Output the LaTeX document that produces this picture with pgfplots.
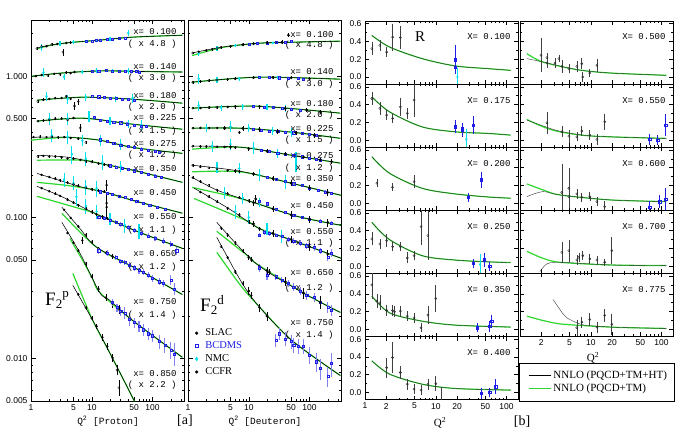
\documentclass[border=0pt]{standalone}
\usepackage{fontspec}
\setmainfont{Liberation Serif}
\setsansfont{Liberation Sans}
\setmonofont{Liberation Mono}
\usepackage{pgfplots}
\pgfplotsset{compat=1.18}
\definecolor{lg}{RGB}{45,215,45}
\definecolor{nmcc}{RGB}{0,225,235}
\definecolor{bcd}{RGB}{30,30,230}
\definecolor{bcdl}{RGB}{130,130,245}
\newcommand{\lab}{\ttfamily\fontsize{9}{9}\selectfont}
\pgfplotsset{
 cvBlack/.style={black, line width=0.55pt, smooth, mark=none},
 cvBlackR/.style={black!80, line width=0.4pt, smooth, mark=none},
 cvGreen/.style={lg, line width=1.2pt, smooth, mark=none},
 ptSlac/.style={only marks, black, mark=o, mark size=1.1pt, mark options={line width=0.35pt}, error bars/y dir=both, error bars/y explicit, error bars/error mark=none, error bars/error bar style={line width=0.45pt}},
 ptBcd/.style={only marks, bcd, mark=square, mark size=1.05pt, mark options={line width=0.4pt}, error bars/y dir=both, error bars/y explicit, error bars/error mark=none, error bars/error bar style={line width=1.1pt, bcdl}},
 ptNmc/.style={only marks, nmcc, mark=diamond*, mark size=1.3pt, error bars/y dir=both, error bars/y explicit, error bars/error mark=none, error bars/error bar style={line width=1.1pt, nmcc}},
 ptCcfr/.style={only marks, black, mark=*, mark size=1.15pt, error bars/y dir=both, error bars/y explicit, error bars/error mark=none, error bars/error bar style={line width=0.6pt}},
 ptRd/.style={only marks, black!85, mark=o, mark size=1.1pt, mark options={line width=0.4pt}, error bars/y dir=both, error bars/y explicit, error bars/error bar style={line width=0.6pt, black!75}, error bars/error mark options={mark size=2pt, line width=0.6pt, black!75}},
 ptRb/.style={only marks, bcd, mark=square, mark size=1.2pt, mark options={line width=0.5pt}, error bars/y dir=both, error bars/y explicit, error bars/error bar style={line width=0.8pt, bcd}, error bars/error mark options={mark size=2pt, line width=0.8pt, bcd}},
 ptRc/.style={only marks, nmcc, mark=diamond*, mark size=1.2pt, error bars/y dir=both, error bars/y explicit, error bars/error bar style={line width=0.9pt, nmcc}, error bars/error mark options={mark size=2pt, line width=0.8pt, nmcc}},
}
\begin{document}
\begin{tikzpicture}
\useasboundingbox (0,0) rectangle (692pt,444pt);

%================ F2 proton ================
\begin{axis}[at={(31pt,43pt)}, anchor=south west, scale only axis, width=153pt, height=381pt,
 xmode=log, ymode=log, xmin=1, xmax=330, ymin=0.005, ymax=2.5,
 xtick={1,5,10,50,100}, xticklabels={1,5,10,50,100},
 minor xtick={2,3,4,6,7,8,9,20,30,40,60,70,80,90,200,300},
 ytick={0.005,0.01,0.05,0.1,0.5,1}, yticklabels={0.005,0.010,0.050,0.100,0.500,1.000},
 minor ytick={0.006,0.007,0.008,0.009,0.02,0.03,0.04,0.06,0.07,0.08,0.09,0.2,0.3,0.4,0.6,0.7,0.8,0.9,2},
 tick style={black,line width=0.5pt}, axis line style={line width=0.7pt},
 tick label style={font=\sffamily\fontsize{8.5}{9}\selectfont},
 major tick length=4.5pt, minor tick length=2.2pt]
% 0.100
\addplot[cvGreen] coordinates {(1.25,1.56)(2.05,1.65)(4.36,1.73)(13.5,1.80)(47,1.89)(310,1.95)};
\addplot[cvBlack] coordinates {(1.25,1.58)(2.05,1.66)(4.36,1.73)(13.5,1.80)(47,1.89)(310,1.95)};
\addplot[ptNmc] coordinates {(1.5,1.60)+-(0,0.08) (3,1.70)+-(0,0.07) (5,1.74)+-(0,0.06) (8,1.76)+-(0,0.05) (12,1.79)+-(0,0.05) (20,1.83)+-(0,0.05) (40,2.02)+-(0,0.1)};
\addplot[ptSlac] coordinates {(1.25,1.57)+-(0,0.03) (1.5,1.62)+-(0,0.03) (1.8,1.63)+-(0,0.03) (2.2,1.68)+-(0,0.04) (2.7,1.69)+-(0,0.03) (3.35,1.48)+-(0,0.08) (3.8,1.72)+-(0,0.04) (4.5,1.73)+-(0,0.04)};
\addplot[ptBcd] coordinates {(8,1.77)+-(0,0.03) (10,1.78)+-(0,0.03) (12,1.79)+-(0,0.03) (14,1.81)+-(0,0.03) (18,1.82)+-(0,0.03) (22,1.84)+-(0,0.03) (28,1.86)+-(0,0.03) (35,1.87)+-(0,0.03)};
% 0.140
\addplot[cvGreen] coordinates {(1.05,1.00)(2.99,1.05)(13.5,1.09)(61.2,1.08)(310,1.07)};
\addplot[cvBlack] coordinates {(1.05,1.00)(2.99,1.05)(13.5,1.09)(61.2,1.08)(310,1.07)};
\addplot[ptNmc] coordinates {(1.6,1.06)+-(0,0.08) (3.5,0.99)+-(0,0.05) (7,1.07)+-(0,0.04) (12,1.10)+-(0,0.04) (22,1.09)+-(0,0.04) (40,1.09)+-(0,0.05)};
\addplot[ptSlac] coordinates {(1.2,1.00)+-(0,0.02) (1.5,1.02)+-(0,0.02) (1.9,1.01)+-(0,0.02) (2.4,1.04)+-(0,0.02) (3,1.03)+-(0,0.02) (3.8,1.06)+-(0,0.02) (4.5,1.05)+-(0,0.02) (5.2,1.07)+-(0,0.02)};
\addplot[ptBcd] coordinates {(10,1.085)+-(0,0.02) (13,1.09)+-(0,0.02) (17,1.10)+-(0,0.02) (22,1.09)+-(0,0.02) (28,1.09)+-(0,0.02) (36,1.09)+-(0,0.02) (45,1.085)+-(0,0.02) (55,1.08)+-(0,0.02) (60,1.06)+-(0,0.02)};
% 0.180
\addplot[cvGreen] coordinates {(1.25,0.676)(7.12,0.71)(47,0.687)(310,0.644)};
\addplot[cvBlack] coordinates {(1.25,0.676)(7.12,0.71)(47,0.687)(310,0.644)};
\addplot[ptNmc] coordinates {(1.8,0.72)+-(0,0.05) (4,0.69)+-(0,0.05) (8,0.71)+-(0,0.04) (25,0.69)+-(0,0.03) (47,0.70)+-(0,0.05)};
\addplot[ptSlac] coordinates {(1.3,0.66)+-(0,0.015) (1.6,0.68)+-(0,0.015) (2,0.69)+-(0,0.015) (2.5,0.70)+-(0,0.015) (3.2,0.70)+-(0,0.015) (3.8,0.72)+-(0,0.015) (4.5,0.69)+-(0,0.015) (5.2,0.615)+-(0,0.04) (6,0.66)+-(0,0.03)};
\addplot[ptBcd] coordinates {(10,0.72)+-(0,0.012) (13,0.715)+-(0,0.012) (16,0.71)+-(0,0.012) (20,0.70)+-(0,0.012) (25,0.695)+-(0,0.012) (32,0.69)+-(0,0.012) (40,0.685)+-(0,0.012) (50,0.68)+-(0,0.012)};
% 0.225
\addplot[cvGreen] coordinates {(1.25,0.480)(7.12,0.504)(47,0.457)(310,0.421)};
\addplot[cvBlack] coordinates {(1.25,0.480)(7.12,0.504)(47,0.457)(310,0.421)};
\addplot[ptNmc] coordinates {(2,0.50)+-(0,0.05) (4,0.50)+-(0,0.05) (9,0.52)+-(0,0.05) (20,0.48)+-(0,0.03) (40,0.46)+-(0,0.03) (65,0.45)+-(0,0.04)};
\addplot[ptSlac] coordinates {(1.3,0.48)+-(0,0.01) (1.6,0.485)+-(0,0.01) (2,0.49)+-(0,0.01) (2.5,0.50)+-(0,0.01) (3.2,0.50)+-(0,0.01) (4,0.49)+-(0,0.01) (5,0.505)+-(0,0.01) (6.5,0.43)+-(0,0.03)};
\addplot[ptBcd] coordinates {(11,0.51)+-(0,0.01) (14,0.49)+-(0,0.01) (18,0.48)+-(0,0.01) (23,0.475)+-(0,0.01) (30,0.468)+-(0,0.01) (38,0.46)+-(0,0.01) (50,0.45)+-(0,0.01) (65,0.445)+-(0,0.01) (80,0.44)+-(0,0.01)};
% 0.275
\addplot[cvGreen] coordinates {(1.0,0.352)(3.89,0.369)(13.5,0.352)(47,0.313)(310,0.284)};
\addplot[cvBlack] coordinates {(1.0,0.369)(3.89,0.369)(13.5,0.352)(47,0.313)(310,0.284)};
\addplot[ptNmc] coordinates {(2.2,0.38)+-(0,0.04) (4,0.37)+-(0,0.04) (7,0.35)+-(0,0.03) (14,0.35)+-(0,0.03) (30,0.33)+-(0,0.03)};
\addplot[ptSlac] coordinates {(1.1,0.37)+-(0,0.008) (1.4,0.372)+-(0,0.008) (1.8,0.37)+-(0,0.008) (2.2,0.372)+-(0,0.008) (2.8,0.369)+-(0,0.008) (3.5,0.37)+-(0,0.008) (4.5,0.365)+-(0,0.008) (6,0.36)+-(0,0.008) (8,0.34)+-(0,0.01)};
\addplot[ptBcd] coordinates {(14,0.355)+-(0,0.007) (18,0.345)+-(0,0.007) (23,0.335)+-(0,0.007) (30,0.325)+-(0,0.007) (40,0.318)+-(0,0.007) (50,0.312)+-(0,0.007) (65,0.306)+-(0,0.007) (85,0.30)+-(0,0.007) (110,0.294)+-(0,0.007) (130,0.29)+-(0,0.007)};
% 0.350
\addplot[cvGreen] coordinates {(1.25,0.254)(7.12,0.254)(13.5,0.241)(47,0.216)(310,0.177)};
\addplot[cvBlack] coordinates {(1.25,0.275)(3.89,0.267)(13.5,0.241)(47,0.216)(310,0.177)};
\addplot[ptNmc] coordinates {(4.7,0.28)+-(0,0.04) (8,0.26)+-(0,0.03) (15,0.245)+-(0,0.03) (30,0.23)+-(0,0.02)};
\addplot[ptSlac] coordinates {(1.3,0.27)+-(0,0.006) (1.6,0.272)+-(0,0.006) (2,0.27)+-(0,0.006) (2.5,0.27)+-(0,0.006) (3.2,0.266)+-(0,0.006) (4,0.262)+-(0,0.006) (5,0.26)+-(0,0.006) (6.5,0.255)+-(0,0.006) (8,0.25)+-(0,0.006) (10,0.247)+-(0,0.006) (13,0.24)+-(0,0.006) (16,0.236)+-(0,0.006) (19,0.232)+-(0,0.006)};
\addplot[ptBcd] coordinates {(20,0.232)+-(0,0.005) (25,0.228)+-(0,0.005) (32,0.223)+-(0,0.005) (40,0.219)+-(0,0.005) (50,0.214)+-(0,0.005) (65,0.208)+-(0,0.005) (85,0.202)+-(0,0.005) (110,0.197)+-(0,0.005) (140,0.192)+-(0,0.005)};
% 0.450
\addplot[cvGreen] coordinates {(1.25,0.177)(4,0.168)(13.5,0.154)(47,0.132)(310,0.107)};
\addplot[cvBlack] coordinates {(1.25,0.205)(7.12,0.163)(17.6,0.150)(47,0.132)(310,0.107)};
\addplot[ptNmc] coordinates {(3.5,0.185)+-(0,0.02) (5,0.175)+-(0,0.02) (8,0.165)+-(0,0.02) (12,0.16)+-(0,0.02)};
\addplot[ptSlac] coordinates {(1.5,0.20)+-(0,0.004) (2,0.193)+-(0,0.004) (2.5,0.188)+-(0,0.004) (3,0.183)+-(0,0.004) (4,0.176)+-(0,0.004) (5,0.171)+-(0,0.004) (6,0.167)+-(0,0.004) (8,0.162)+-(0,0.004) (10,0.158)+-(0,0.004) (13,0.154)+-(0,0.004) (16,0.152)+-(0,0.004) (17.6,0.169)+-(0,0.015) (17.6,0.118)+-(0,0.02)};
\addplot[ptBcd] coordinates {(14,0.152)+-(0,0.003) (18,0.148)+-(0,0.003) (22,0.145)+-(0,0.003) (28,0.141)+-(0,0.003) (35,0.138)+-(0,0.003) (45,0.134)+-(0,0.003) (55,0.130)+-(0,0.003) (70,0.126)+-(0,0.003) (90,0.122)+-(0,0.003) (120,0.118)+-(0,0.003) (160,0.114)+-(0,0.003)};
% 0.550
\addplot[cvGreen] coordinates {(1.25,0.141)(9.27,0.110)(12.1,0.105)(61.2,0.0783)(310,0.0603)};
\addplot[cvBlack] coordinates {(1.25,0.166)(3.35,0.139)(12.1,0.105)(61.2,0.0783)(310,0.0603)};
\addplot[ptNmc] coordinates {(5.6,0.14)+-(0,0.02) (8,0.12)+-(0,0.015) (12,0.11)+-(0,0.012) (20,0.098)+-(0,0.01) (35,0.088)+-(0,0.01) (60,0.08)+-(0,0.01)};
\addplot[ptSlac] coordinates {(1.5,0.161)+-(0,0.003) (2,0.153)+-(0,0.003) (2.5,0.147)+-(0,0.003) (3,0.142)+-(0,0.003) (4,0.133)+-(0,0.003) (5,0.127)+-(0,0.003) (6,0.122)+-(0,0.003) (8,0.115)+-(0,0.003) (10,0.109)+-(0,0.003) (12,0.105)+-(0,0.003) (15,0.101)+-(0,0.003) (18,0.098)+-(0,0.003) (17.6,0.126)+-(0,0.025)};
\addplot[ptBcd] coordinates {(13,0.10)+-(0,0.003) (16,0.099)+-(0,0.003) (20,0.095)+-(0,0.003) (25,0.092)+-(0,0.003) (30,0.089)+-(0,0.003) (40,0.085)+-(0,0.003) (50,0.081)+-(0,0.003) (65,0.077)+-(0,0.003) (85,0.074)+-(0,0.003) (110,0.071)+-(0,0.003) (150,0.068)+-(0,0.003) (200,0.065)+-(0,0.003) (250,0.058)+-(0,0.004)};
% 0.650
\addplot[cvGreen] coordinates {(3.22,0.107)(12.1,0.0613)(61.2,0.0421)(310,0.0284)};
\addplot[cvBlack] coordinates {(3.22,0.118)(6.36,0.0835)(12.1,0.0613)(61.2,0.0421)(310,0.0284)};
\addplot[ptSlac] coordinates {(3.5,0.113)+-(0,0.002) (4.5,0.099)+-(0,0.002) (6,0.086)+-(0,0.002) (7,0.0686)+-(0,0.004) (8,0.075)+-(0,0.002) (10,0.067)+-(0,0.002) (13,0.060)+-(0,0.002) (17,0.056)+-(0,0.002) (22,0.053)+-(0,0.002)};
\addplot[ptBcd] coordinates {(13,0.058)+-(0,0.003) (18,0.056)+-(0,0.003) (25,0.052)+-(0,0.002) (30,0.049)+-(0,0.002) (35,0.048)+-(0,0.002) (42,0.046)+-(0,0.002) (50,0.044)+-(0,0.002) (60,0.042)+-(0,0.002) (70,0.041)+-(0,0.002) (85,0.039)+-(0,0.002) (100,0.037)+-(0,0.002) (130,0.035)+-(0,0.002) (150,0.034)+-(0,0.002) (200,0.036)+-(0,0.003) (230,0.031)+-(0,0.003)};
% 0.750
\addplot[cvGreen] coordinates {(4.36,0.071)(7,0.050)(10.4,0.0365)(13.5,0.0294)(47,0.0186)(310,0.0102)};
\addplot[cvBlack] coordinates {(3.22,0.0922)(6.36,0.056)(13.5,0.0294)(19.7,0.0259)(47,0.0186)(310,0.0102)};
\addplot[ptSlac] coordinates {(4,0.0775)+-(0,0.0015) (5,0.066)+-(0,0.0015) (6,0.058)+-(0,0.0015) (8,0.047)+-(0,0.0015) (10,0.038)+-(0,0.0015) (13,0.031)+-(0,0.0015) (17,0.027)+-(0,0.0015) (22,0.0244)+-(0,0.0015) (28,0.0223)+-(0,0.0015)};
\addplot[ptBcd] coordinates {(22,0.025)+-(0,0.0015) (26,0.023)+-(0,0.0015) (30,0.0215)+-(0,0.0015) (35,0.021)+-(0,0.002) (42,0.019)+-(0,0.002) (50,0.018)+-(0,0.0015) (60,0.017)+-(0,0.0015) (70,0.016)+-(0,0.0015) (85,0.015)+-(0,0.0015) (100,0.0145)+-(0,0.0015) (130,0.0132)+-(0,0.0015) (160,0.0125)+-(0,0.0015) (200,0.0115)+-(0,0.0015) (230,0.0108)+-(0,0.002)};
% 0.850
\addplot[cvGreen] coordinates {(4.88,0.0401)(10.4,0.0186)(19.7,0.0110)(50.7,0.00495)(70,0.0036)};
\addplot[cvBlack] coordinates {(4.88,0.0330)(10.4,0.0186)(19.7,0.0110)(50.7,0.00495)(70,0.0036)};
\addplot[ptSlac] coordinates {(6,0.0284)+-(0,0.0007) (8,0.0229)+-(0,0.0007) (10,0.0193)+-(0,0.0007) (12,0.0169)+-(0,0.0007) (15,0.0141)+-(0,0.0007) (18,0.0122)+-(0,0.0007) (22,0.0101)+-(0,0.0007) (26,0.0083)+-(0,0.0007) (28,0.0062)+-(0,0.0008)};
% labels
\node[anchor=east,font=\lab] at (rel axis cs:0.974,0.971) {x= 0.100};
\node[anchor=east,font=\lab] at (rel axis cs:0.974,0.937) {( x 4.8 )};
\node[anchor=east,font=\lab] at (rel axis cs:0.974,0.879) {x= 0.140};
\node[anchor=east,font=\lab] at (rel axis cs:0.974,0.848) {( x 3.0 )};
\node[anchor=east,font=\lab] at (rel axis cs:0.974,0.803) {x= 0.180};
\node[anchor=east,font=\lab] at (rel axis cs:0.974,0.772) {( x 2.0 )};
\node[anchor=east,font=\lab] at (rel axis cs:0.974,0.743) {x= 0.225};
\node[anchor=east,font=\lab] at (rel axis cs:0.974,0.709) {( x 1.5 )};
\node[anchor=east,font=\lab] at (rel axis cs:0.974,0.677) {x= 0.275};
\node[anchor=east,font=\lab] at (rel axis cs:0.974,0.646) {( x 1.2 )};
\node[anchor=east,font=\lab] at (rel axis cs:0.974,0.609) {x= 0.350};
\node[anchor=east,font=\lab] at (rel axis cs:0.974,0.546) {x= 0.450};
\node[anchor=east,font=\lab] at (rel axis cs:0.974,0.483) {x= 0.550};
\node[anchor=east,font=\lab] at (rel axis cs:0.974,0.449) {( x 1.1 )};
\node[anchor=east,font=\lab] at (rel axis cs:0.974,0.388) {x= 0.650};
\node[anchor=east,font=\lab] at (rel axis cs:0.974,0.352) {( x 1.2 )};
\node[anchor=east,font=\lab] at (rel axis cs:0.974,0.260) {x= 0.750};
\node[anchor=east,font=\lab] at (rel axis cs:0.974,0.226) {( x 1.4 )};
\node[anchor=east,font=\lab] at (rel axis cs:0.974,0.073) {x= 0.850};
\node[anchor=east,font=\lab] at (rel axis cs:0.974,0.042) {( x 2.2 )};
\node[font=\fontsize{19}{20}\selectfont] at (rel axis cs:0.17,0.265) {F\raisebox{-0.35ex}{\fontsize{13}{13}\selectfont 2}\raisebox{0.9ex}{\fontsize{13}{13}\selectfont p}};
\end{axis}

%================ F2 deuteron ================
\begin{axis}[at={(188pt,43pt)}, anchor=south west, scale only axis, width=153pt, height=381pt,
 xmode=log, ymode=log, xmin=1, xmax=330, ymin=0.005, ymax=2.5,
 xtick={1,5,10,50,100}, xticklabels={1,5,10,50,100},
 minor xtick={2,3,4,6,7,8,9,20,30,40,60,70,80,90,200,300},
 ytick={0.005,0.01,0.05,0.1,0.5,1}, yticklabels={},
 minor ytick={0.006,0.007,0.008,0.009,0.02,0.03,0.04,0.06,0.07,0.08,0.09,0.2,0.3,0.4,0.6,0.7,0.8,0.9,2},
 tick style={black,line width=0.5pt}, axis line style={line width=0.7pt},
 tick label style={font=\sffamily\fontsize{8.5}{9}\selectfont},
 major tick length=4.5pt, minor tick length=2.2pt,
 legend style={at={(0.045,0.195)}, anchor=north west, draw=none, fill=none, font=\fontsize{10.5}{11}\selectfont, row sep=0.5pt, column sep=5pt, inner sep=0pt}, legend cell align=left]
\addlegendimage{only marks, mark=*, black, mark size=1.4pt}\addlegendentry{SLAC}
\addlegendimage{only marks, mark=square, bcd, mark size=1.6pt, mark options={line width=0.6pt}}\addlegendentry{\textcolor{bcd}{BCDMS}}
\addlegendimage{only marks, mark=diamond*, nmcc, mark size=1.9pt}\addlegendentry{NMC}
\addlegendimage{only marks, mark=*, black, mark size=1.4pt}\addlegendentry{CCFR}
% 0.100
\addplot[cvGreen] coordinates {(1.17,1.40)(3.77,1.60)(14.2,1.71)(51.5,1.74)(322,1.77)};
\addplot[cvBlack] coordinates {(1.17,1.46)(3.77,1.61)(14.2,1.71)(51.5,1.74)(322,1.77)};
\addplot[ptNmc] coordinates {(1.5,1.45)+-(0,0.06) (3,1.58)+-(0,0.06) (6,1.65)+-(0,0.05) (12,1.70)+-(0,0.05) (25,1.72)+-(0,0.04)};
\addplot[ptSlac] coordinates {(1.2,1.46)+-(0,0.03) (1.5,1.49)+-(0,0.03) (2,1.52)+-(0,0.03) (2.5,1.55)+-(0,0.03) (3,1.57)+-(0,0.03) (3.5,1.60)+-(0,0.03)};
\addplot[ptBcd] coordinates {(10,1.68)+-(0,0.03) (14,1.71)+-(0,0.03) (20,1.72)+-(0,0.03) (28,1.73)+-(0,0.03) (40,1.73)+-(0,0.03) (50,1.76)+-(0,0.03)};
\addplot[ptCcfr] coordinates {(5,1.63)+-(0,0.04) (8,1.67)+-(0,0.04) (12,1.70)+-(0,0.04) (20,1.73)+-(0,0.04) (35,1.74)+-(0,0.05) (45,1.95)+-(0,0.07)};
% 0.140
\addplot[cvGreen] coordinates {(1.17,0.906)(14.2,0.984)(322,0.952)};
\addplot[cvBlack] coordinates {(1.17,0.906)(14.2,0.984)(322,0.952)};
\addplot[ptNmc] coordinates {(1.5,0.96)+-(0,0.08) (3,0.94)+-(0,0.04) (7,0.96)+-(0,0.03) (15,0.98)+-(0,0.03) (30,0.98)+-(0,0.03)};
\addplot[ptSlac] coordinates {(1.2,0.906)+-(0,0.02) (1.6,0.92)+-(0,0.02) (2.2,0.93)+-(0,0.02) (3,0.94)+-(0,0.02) (4.5,0.95)+-(0,0.02)};
\addplot[ptBcd] coordinates {(15,0.98)+-(0,0.015) (22,0.98)+-(0,0.015) (32,0.975)+-(0,0.015) (45,0.97)+-(0,0.015) (65,0.965)+-(0,0.015) (80,0.955)+-(0,0.015)};
\addplot[ptCcfr] coordinates {(6,0.96)+-(0,0.025) (12,0.975)+-(0,0.025) (25,0.98)+-(0,0.025) (50,0.975)+-(0,0.025) (100,0.96)+-(0,0.025)};
% 0.180
\addplot[cvGreen] coordinates {(1.17,0.593)(14.2,0.613)(322,0.547)};
\addplot[cvBlack] coordinates {(1.17,0.593)(14.2,0.613)(322,0.547)};
\addplot[ptNmc] coordinates {(1.5,0.62)+-(0,0.05) (3.5,0.60)+-(0,0.03) (8,0.61)+-(0,0.03) (20,0.605)+-(0,0.03) (40,0.59)+-(0,0.03)};
\addplot[ptSlac] coordinates {(1.2,0.593)+-(0,0.012) (1.6,0.595)+-(0,0.012) (2.2,0.598)+-(0,0.012) (3,0.60)+-(0,0.012) (4.5,0.605)+-(0,0.012)};
\addplot[ptBcd] coordinates {(12,0.61)+-(0,0.01) (18,0.607)+-(0,0.01) (25,0.60)+-(0,0.01) (35,0.593)+-(0,0.01) (50,0.585)+-(0,0.01) (70,0.578)+-(0,0.01)};
\addplot[ptCcfr] coordinates {(6,0.61)+-(0,0.02) (15,0.61)+-(0,0.02) (40,0.59)+-(0,0.02) (90,0.575)+-(0,0.02) (150,0.56)+-(0,0.02)};
% 0.225
\addplot[cvGreen] coordinates {(1.17,0.428)(7.32,0.428)(51.5,0.401)(322,0.363)};
\addplot[cvBlack] coordinates {(1.17,0.428)(7.32,0.428)(51.5,0.401)(322,0.363)};
\addplot[ptNmc] coordinates {(2,0.43)+-(0,0.03) (5,0.44)+-(0,0.04) (10,0.43)+-(0,0.03) (25,0.41)+-(0,0.03) (50,0.40)+-(0,0.03)};
\addplot[ptSlac] coordinates {(1.2,0.428)+-(0,0.008) (1.6,0.43)+-(0,0.008) (2.2,0.428)+-(0,0.008) (3,0.43)+-(0,0.008) (4,0.425)+-(0,0.008) (7,0.40)+-(0,0.01)};
\addplot[ptBcd] coordinates {(12,0.42)+-(0,0.008) (16,0.416)+-(0,0.008) (22,0.41)+-(0,0.008) (30,0.406)+-(0,0.008) (40,0.403)+-(0,0.008) (55,0.398)+-(0,0.008) (75,0.393)+-(0,0.008) (100,0.387)+-(0,0.008) (130,0.38)+-(0,0.008)};
\addplot[ptCcfr] coordinates {(4,0.43)+-(0,0.015) (8,0.427)+-(0,0.015) (15,0.42)+-(0,0.015) (30,0.405)+-(0,0.015) (60,0.397)+-(0,0.015) (120,0.38)+-(0,0.015)};
% 0.275
\addplot[cvGreen] coordinates {(1.17,0.304)(7.32,0.314)(51.5,0.275)(322,0.242)};
\addplot[cvBlack] coordinates {(1.17,0.319)(7.32,0.314)(51.5,0.275)(322,0.242)};
\addplot[ptNmc] coordinates {(2.5,0.32)+-(0,0.03) (5,0.33)+-(0,0.03) (12,0.31)+-(0,0.03) (30,0.285)+-(0,0.02) (60,0.25)+-(0,0.04)};
\addplot[ptSlac] coordinates {(1.2,0.319)+-(0,0.006) (1.6,0.318)+-(0,0.006) (2,0.317)+-(0,0.006) (3,0.316)+-(0,0.006) (4,0.315)+-(0,0.006) (6,0.312)+-(0,0.006)};
\addplot[ptBcd] coordinates {(16,0.30)+-(0,0.006) (22,0.292)+-(0,0.006) (30,0.286)+-(0,0.006) (40,0.280)+-(0,0.006) (55,0.275)+-(0,0.006) (75,0.269)+-(0,0.006) (100,0.263)+-(0,0.006) (130,0.258)+-(0,0.006) (150,0.255)+-(0,0.006)};
\addplot[ptCcfr] coordinates {(5,0.315)+-(0,0.01) (10,0.306)+-(0,0.01) (20,0.294)+-(0,0.01) (40,0.281)+-(0,0.01) (80,0.267)+-(0,0.01) (150,0.255)+-(0,0.01) (230,0.248)+-(0,0.01)};
% 0.350
\addplot[cvGreen] coordinates {(1.17,0.21)(7.32,0.21)(51.5,0.174)(335,0.143)};
\addplot[cvBlack] coordinates {(1.17,0.234)(7.32,0.212)(51.5,0.174)(335,0.143)};
\addplot[ptNmc] coordinates {(3,0.225)+-(0,0.02) (7,0.222)+-(0,0.02) (15,0.2)+-(0,0.02) (40,0.178)+-(0,0.02)};
\addplot[ptSlac] coordinates {(1.2,0.234)+-(0,0.005) (1.6,0.228)+-(0,0.005) (2.2,0.224)+-(0,0.005) (3,0.221)+-(0,0.005) (4.5,0.215)+-(0,0.005) (7,0.212)+-(0,0.005)};
\addplot[ptBcd] coordinates {(20,0.192)+-(0,0.004) (28,0.186)+-(0,0.004) (40,0.18)+-(0,0.004) (55,0.173)+-(0,0.004) (75,0.168)+-(0,0.004) (100,0.162)+-(0,0.004) (140,0.156)+-(0,0.004) (180,0.151)+-(0,0.004) (230,0.148)+-(0,0.004)};
\addplot[ptCcfr] coordinates {(6,0.213)+-(0,0.008) (12,0.203)+-(0,0.008) (25,0.188)+-(0,0.008) (50,0.175)+-(0,0.008) (100,0.162)+-(0,0.008) (200,0.150)+-(0,0.008)};
% 0.450
\addplot[cvGreen] coordinates {(1.17,0.163)(6.02,0.139)(11.7,0.128)(62.6,0.1016)(335,0.0877)};
\addplot[cvBlack] coordinates {(1.17,0.192)(3.10,0.155)(11.7,0.128)(62.6,0.1016)(335,0.0877)};
\addplot[ptNmc] coordinates {(4,0.15)+-(0,0.015) (8,0.137)+-(0,0.012) (15,0.128)+-(0,0.01)};
\addplot[ptSlac] coordinates {(1.2,0.191)+-(0,0.004) (1.6,0.18)+-(0,0.004) (2.2,0.168)+-(0,0.004) (3,0.156)+-(0,0.004) (4.5,0.147)+-(0,0.004) (7,0.138)+-(0,0.004) (10,0.131)+-(0,0.004)};
\addplot[ptBcd] coordinates {(15,0.13)+-(0,0.003) (20,0.125)+-(0,0.003) (28,0.114)+-(0,0.003) (40,0.108)+-(0,0.003) (55,0.103)+-(0,0.003) (75,0.10)+-(0,0.003) (100,0.097)+-(0,0.003) (150,0.094)+-(0,0.003) (230,0.091)+-(0,0.003)};
\addplot[ptCcfr] coordinates {(12,0.127)+-(0,0.006) (13,0.135)+-(0,0.008) (25,0.115)+-(0,0.006) (50,0.104)+-(0,0.006) (100,0.097)+-(0,0.006) (200,0.092)+-(0,0.006)};
% 0.550
\addplot[cvGreen] coordinates {(1.26,0.136)(8.89,0.0952)(14.8,0.0835)(42.3,0.0710)(335,0.0512)};
\addplot[cvBlack] coordinates {(1.26,0.161)(4.58,0.116)(14.8,0.0835)(42.3,0.0710)(335,0.0512)};
\addplot[ptNmc] coordinates {(6,0.11)+-(0,0.012) (10,0.10)+-(0,0.01) (20,0.083)+-(0,0.008) (35,0.074)+-(0,0.008)};
\addplot[ptSlac] coordinates {(1.6,0.151)+-(0,0.003) (2.2,0.140)+-(0,0.003) (3,0.129)+-(0,0.003) (4.5,0.116)+-(0,0.003) (7,0.104)+-(0,0.003) (10,0.093)+-(0,0.003) (15,0.083)+-(0,0.003)};
\addplot[ptBcd] coordinates {(15,0.075)+-(0,0.003) (18,0.078)+-(0,0.003) (22,0.077)+-(0,0.003) (28,0.075)+-(0,0.003) (35,0.073)+-(0,0.003) (45,0.070)+-(0,0.003) (55,0.068)+-(0,0.003) (70,0.066)+-(0,0.003) (90,0.063)+-(0,0.003) (120,0.061)+-(0,0.003) (150,0.058)+-(0,0.003) (200,0.052)+-(0,0.003) (230,0.056)+-(0,0.004)};
\addplot[ptCcfr] coordinates {(12,0.09)+-(0,0.004) (25,0.077)+-(0,0.004) (50,0.07)+-(0,0.004) (100,0.062)+-(0,0.004) (200,0.055)+-(0,0.004)};
% 0.650
\addplot[cvGreen] coordinates {(2.98,0.0796)(10.8,0.0512)(13.1,0.0472)(76.1,0.0294)(322,0.0212)};
\addplot[cvBlack] coordinates {(2.98,0.0922)(13.1,0.0472)(76.1,0.0294)(322,0.0212)};
\addplot[ptSlac] coordinates {(3.5,0.084)+-(0,0.002) (4.5,0.075)+-(0,0.002) (6,0.066)+-(0,0.002) (8,0.058)+-(0,0.002) (11,0.050)+-(0,0.002) (15,0.045)+-(0,0.002) (22,0.041)+-(0,0.002)};
\addplot[ptBcd] coordinates {(15,0.044)+-(0,0.003) (20,0.039)+-(0,0.003) (28,0.038)+-(0,0.002) (35,0.036)+-(0,0.002) (45,0.034)+-(0,0.002) (55,0.032)+-(0,0.002) (70,0.030)+-(0,0.002) (90,0.028)+-(0,0.002) (120,0.027)+-(0,0.002) (150,0.025)+-(0,0.002) (200,0.023)+-(0,0.002) (230,0.022)+-(0,0.002)};
\addplot[ptCcfr] coordinates {(10,0.052)+-(0,0.0025) (20,0.042)+-(0,0.0025) (40,0.035)+-(0,0.0025) (80,0.029)+-(0,0.0025) (150,0.025)+-(0,0.0025)};
% 0.750
\addplot[cvGreen] coordinates {(2.98,0.0565)(7.32,0.033)(14.2,0.0238)(51.5,0.0134)(322,0.00757)};
\addplot[cvBlack] coordinates {(2.98,0.0722)(7.32,0.0357)(14.2,0.0238)(51.5,0.0134)(322,0.00757)};
\addplot[ptSlac] coordinates {(3.5,0.062)+-(0,0.0015) (4.5,0.052)+-(0,0.0015) (6,0.041)+-(0,0.0015) (8,0.034)+-(0,0.0015) (11,0.028)+-(0,0.0015) (15,0.023)+-(0,0.0015) (20,0.020)+-(0,0.0015)};
\addplot[ptBcd] coordinates {(28,0.0135)+-(0,0.0015) (32,0.015)+-(0,0.0015) (40,0.0138)+-(0,0.0015) (50,0.0132)+-(0,0.0015) (55,0.0125)+-(0,0.0015) (65,0.0122)+-(0,0.0015) (80,0.0122)+-(0,0.0015) (100,0.0106)+-(0,0.0015) (130,0.0095)+-(0,0.0015) (150,0.0085)+-(0,0.0015) (200,0.0075)+-(0,0.0012) (230,0.0092)+-(0,0.0018)};
\addplot[ptCcfr] coordinates {(10,0.03)+-(0,0.002) (20,0.02)+-(0,0.0015)};
% labels
\node[anchor=east,font=\lab] at (rel axis cs:0.974,0.963) {x= 0.100};
\node[anchor=east,font=\lab] at (rel axis cs:0.974,0.934) {( x 4.8 )};
\node[anchor=east,font=\lab] at (rel axis cs:0.974,0.864) {x= 0.140};
\node[anchor=east,font=\lab] at (rel axis cs:0.974,0.832) {( x 3.0 )};
\node[anchor=east,font=\lab] at (rel axis cs:0.974,0.782) {x= 0.180};
\node[anchor=east,font=\lab] at (rel axis cs:0.974,0.751) {( x 2.0 )};
\node[anchor=east,font=\lab] at (rel axis cs:0.974,0.714) {x= 0.225};
\node[anchor=east,font=\lab] at (rel axis cs:0.974,0.685) {( x 1.5 )};
\node[anchor=east,font=\lab] at (rel axis cs:0.974,0.643) {x= 0.275};
\node[anchor=east,font=\lab] at (rel axis cs:0.974,0.612) {( x 1.2 )};
\node[anchor=east,font=\lab] at (rel axis cs:0.974,0.583) {x= 0.350};
\node[anchor=east,font=\lab] at (rel axis cs:0.974,0.514) {x= 0.450};
\node[anchor=east,font=\lab] at (rel axis cs:0.974,0.446) {x= 0.550};
\node[anchor=east,font=\lab] at (rel axis cs:0.974,0.415) {( x 1.1 )};
\node[anchor=east,font=\lab] at (rel axis cs:0.974,0.336) {x= 0.650};
\node[anchor=east,font=\lab] at (rel axis cs:0.974,0.297) {( x 1.2 )};
\node[anchor=east,font=\lab] at (rel axis cs:0.974,0.207) {x= 0.750};
\node[anchor=east,font=\lab] at (rel axis cs:0.974,0.173) {( x 1.4 )};
\node[font=\fontsize{19}{20}\selectfont] at (rel axis cs:0.157,0.252) {F\raisebox{-0.35ex}{\fontsize{13}{13}\selectfont 2}\raisebox{0.9ex}{\fontsize{13}{13}\selectfont d}};
\end{axis}

\node[font=\ttfamily\fontsize{9.5}{10}\selectfont] at (108pt,23pt) {Q\textsuperscript{2} [Proton]};
\node[font=\ttfamily\fontsize{9.5}{10}\selectfont] at (265pt,23pt) {Q\textsuperscript{2} [Deuteron]};
\node[font=\fontsize{14}{14}\selectfont] at (185pt,23pt) {[a]};
\node[font=\fontsize{14}{14}\selectfont] at (522pt,22pt) {[b]};
\node[font=\fontsize{11}{11}\selectfont] at (440pt,21pt) {Q\textsuperscript{2}};
\node[font=\fontsize{11}{11}\selectfont] at (593pt,86pt) {Q\textsuperscript{2}};

%================ R panels (common settings) ================
\pgfplotsset{scale only axis, width=153pt, height=63.1pt, xmin=1, xmax=145, ymin=-0.08, ymax=0.63,
 xtick={1,2,5,10,20,50,100}, minor xtick={3,4,6,7,8,9,30,40,60,70,80,90},
 ytick={0,0.2,0.4,0.6}, minor ytick={0.1,0.3,0.5}, xticklabels={}, yticklabels={},
 tick style={black,line width=0.5pt}, axis line style={line width=0.7pt},
 tick label style={font=\sffamily\fontsize{8.5}{9}\selectfont},
 major tick length=4pt, minor tick length=2pt}

\begin{axis}[at={(365pt,359.9pt)}, anchor=south west, xmode=log, yticklabels={0.0,0.2,0.4,0.6}]
\addplot[cvGreen] coordinates {(1.25,0.468)(2.22,0.337)(6.38,0.207)(18.9,0.124)(54.6,0.094)(114,0.075)};
\addplot[cvBlackR] coordinates {(1.25,0.468)(2.22,0.337)(6.38,0.207)(18.9,0.124)(54.6,0.094)(114,0.075)};
\addplot[ptRd] coordinates {(1.25,0.319)+-(0,0.05) (1.62,0.356)+-(0,0.04) (2.02,0.281)+-(0,0.03) (2.45,0.449)+-(0,0.13) (3.16,0.442)+-(0,0.11)};
\addplot[ptRc] coordinates {(20.2,0.0)+-(0,0.08)};
\addplot[ptRb] coordinates {(18.9,0.195)+-(0,0.14) (18.9,0.112)+-(0,0.05)};
\node[anchor=east,font=\lab] at (rel axis cs:0.974,0.746) {X= 0.100};
\node[font=\fontsize{15}{15}\selectfont] at (rel axis cs:0.36,0.746) {R};
\end{axis}
\begin{axis}[at={(365pt,296.8pt)}, anchor=south west, xmode=log, yticklabels={0.0,0.2,0.4,0.6}]
\addplot[cvGreen] coordinates {(1.25,0.486)(2.22,0.318)(6.38,0.149)(18.9,0.093)(54.6,0.075)(114,0.056)};
\addplot[cvBlackR] coordinates {(1.25,0.486)(2.22,0.318)(6.38,0.149)(18.9,0.093)(54.6,0.075)(114,0.056)};
\addplot[ptRd] coordinates {(1.25,0.468)+-(0,0.05) (1.62,0.356)+-(0,0.05) (2.02,0.281)+-(0,0.03) (2.45,0.244)+-(0,0.03) (3.16,0.374)+-(0,0.08) (3.96,0.30)+-(0,0.04) (4.94,0.449)+-(0,0.17)};
\addplot[ptRc] coordinates {(27,0.01)+-(0,0.09)};
\addplot[ptRb] coordinates {(18.9,0.149)+-(0,0.05) (23.7,0.112)+-(0,0.06) (23.7,0.13)+-(0,0.04) (33.6,0.168)+-(0,0.08)};
\node[anchor=east,font=\lab] at (rel axis cs:0.974,0.746) {X= 0.175};
\end{axis}
\begin{axis}[at={(365pt,233.7pt)}, anchor=south west, xmode=log, yticklabels={0.0,0.2,0.4,0.6}]
\addplot[cvGreen] coordinates {(1.25,0.523)(2.22,0.337)(6.38,0.168)(18.9,0.104)(54.6,0.07)(114,0.056)};
\addplot[cvBlackR] coordinates {(1.25,0.523)(2.22,0.337)(6.38,0.168)(18.9,0.104)(54.6,0.07)(114,0.056)};
\addplot[ptRd] coordinates {(1.47,0.225)+-(0,0.02) (2.45,0.18)+-(0,0.02) (4.94,0.243)+-(0,0.05)};
\addplot[ptRb] coordinates {(28.7,0.067)+-(0,0.03) (43.6,0.262)+-(0,0.07)};
\node[anchor=east,font=\lab] at (rel axis cs:0.974,0.746) {X= 0.200};
\end{axis}
\begin{axis}[at={(365pt,170.6pt)}, anchor=south west, xmode=log, yticklabels={0.0,0.2,0.4,0.6}]
\addplot[cvGreen] coordinates {(1.25,0.494)(2.22,0.30)(6.38,0.12)(18.9,0.07)(54.6,0.05)(114,0.042)};
\addplot[cvBlackR] coordinates {(1.25,0.494)(2.22,0.30)(6.38,0.12)(18.9,0.07)(54.6,0.05)(114,0.042)};
\addplot[ptRd] coordinates {(1.25,0.308)+-(0,0.05) (1.62,0.252)+-(0,0.03) (2.02,0.289)+-(0,0.05) (2.45,0.221)+-(0,0.03) (3.16,0.221)+-(0,0.03) (3.96,0.094)+-(0,0.04) (4.94,0.12)+-(0,0.03) (6.19,0.446)+-(0,0.18) (7.74,0.345)+-(0,0.25)};
\addplot[ptRc] coordinates {(42.2,0.02)+-(0,0.1)};
\addplot[ptRb] coordinates {(33.6,0.034)+-(0,0.03) (48,0.072)+-(0,0.06) (58.1,0.0)+-(0,0.03)};
\node[anchor=east,font=\lab] at (rel axis cs:0.974,0.746) {X= 0.250};
\end{axis}
\begin{axis}[at={(365pt,107.5pt)}, anchor=south west, xmode=log, yticklabels={0.0,0.2,0.4,0.6}]
\addplot[cvGreen] coordinates {(1.25,0.374)(2.22,0.186)(6.38,0.093)(18.9,0.048)(114,0.026)};
\addplot[cvBlackR] coordinates {(1.25,0.374)(2.22,0.186)(6.38,0.093)(18.9,0.048)(114,0.026)};
\addplot[ptRd] coordinates {(1.25,0.50)+-(0,0.13) (1.47,0.318)+-(0,0.06) (1.62,0.299)+-(0,0.06) (2.02,0.213)+-(0,0.04) (2.45,0.213)+-(0,0.04) (2.61,0.198)+-(0,0.04) (3.16,0.205)+-(0,0.04) (3.96,0.149)+-(0,0.03) (4.94,0.13)+-(0,0.03) (6.19,0.018)+-(0,0.03) (7.74,0.16)+-(0,0.08) (10,0.348)+-(0,0.13)};
\addplot[ptRb] coordinates {(38.3,0.018)+-(0,0.03) (58.1,0.037)+-(0,0.04) (62,0.093)+-(0,0.05)};
\node[anchor=east,font=\lab] at (rel axis cs:0.974,0.746) {X= 0.350};
\end{axis}
\begin{axis}[at={(365pt,44.4pt)}, anchor=south west, xmode=log, yticklabels={0.0,0.2,0.4,0.6}, xticklabels={1,2,5,10,20,50,100}]
\addplot[cvGreen] coordinates {(1.25,0.356)(2.22,0.207)(6.38,0.094)(18.9,0.045)(114,0.027)};
\addplot[cvBlackR] coordinates {(1.25,0.356)(2.22,0.207)(6.38,0.094)(18.9,0.045)(114,0.027)};
\addplot[ptRd] coordinates {(2.02,0.281)+-(0,0.09) (2.45,0.393)+-(0,0.15) (3.16,0.225)+-(0,0.05) (3.96,0.094)+-(0,0.04) (4.94,0.038)+-(0,0.03) (6.19,0.027)+-(0,0.03) (7.74,0.094)+-(0,0.04) (10,0.10)+-(0,0.06) (12.1,-0.12)+-(0,0.16)};
\addplot[ptRb] coordinates {(43.6,-0.01)+-(0,0.04) (58.1,0.0)+-(0,0.03) (70.4,0.064)+-(0,0.06)};
\node[anchor=east,font=\lab] at (rel axis cs:0.974,0.746) {X= 0.400};
\end{axis}

\begin{axis}[at={(520pt,359.9pt)}, anchor=south west, xmode=log]
\addplot[cvGreen] coordinates {(1.25,0.263)(2.11,0.168)(6.35,0.083)(18.5,0.045)(117,0.019)};
\addplot[cvBlackR] coordinates {(1.25,0.207)(2.11,0.168)(6.35,0.083)(18.5,0.045)(117,0.019)};
\addplot[ptRd] coordinates {(1.98,0.244)+-(0,0.17) (2.40,0.218)+-(0,0.03) (2.40,0.157)+-(0,0.03) (3.11,0.157)+-(0,0.03) (3.54,0.207)+-(0,0.02) (3.90,0.12)+-(0,0.05) (4.90,0.094)+-(0,0.03) (6.35,0.12)+-(0,0.04) (7.46,0.15)+-(0,0.04) (7.70,0.0)+-(0,0.03) (9.68,0.045)+-(0,0.02) (12.2,0.131)+-(0,0.05)};
\node[anchor=east,font=\lab] at (rel axis cs:0.974,0.746) {X= 0.500};
\end{axis}
\begin{axis}[at={(520pt,296.8pt)}, anchor=south west, xmode=log]
\addplot[cvGreen] coordinates {(1.25,0.232)(2.11,0.15)(3.66,0.093)(10.7,0.045)(117,0.019)};
\addplot[cvBlackR] coordinates {(1.25,0.225)(2.11,0.16)(3.66,0.10)(10.7,0.045)(117,0.019)};
\addplot[ptRd] coordinates {(2.40,0.194)+-(0,0.1) (3.90,0.093)+-(0,0.04) (4.90,0.045)+-(0,0.05) (6.35,0.037)+-(0,0.03) (7.46,0.101)+-(0,0.03) (9.68,0.056)+-(0,0.03) (12.2,0.008)+-(0,0.04) (15.7,0.206)+-(0,0.07)};
\addplot[ptRb] coordinates {(67.7,0.008)+-(0,0.04) (88,0.0)+-(0,0.03) (114,0.168)+-(0,0.1)};
\node[anchor=east,font=\lab] at (rel axis cs:0.974,0.746) {X= 0.550};
\end{axis}
\begin{axis}[at={(520pt,233.7pt)}, anchor=south west, xmode=log]
\addplot[cvGreen] coordinates {(1.25,0.217)(2.11,0.15)(3.66,0.093)(18.5,0.037)(117,0.018)};
\addplot[cvBlackR] coordinates {(1.25,0.074)(2.11,0.13)(3.66,0.093)(18.5,0.037)(117,0.018)};
\addplot[ptRd] coordinates {(3.90,0.12)+-(0,0.3) (4.90,0.168)+-(0,0.2) (4.90,0.074)+-(0,0.03) (6.35,0.104)+-(0,0.03) (7.46,0.067)+-(0,0.03) (9.68,0.074)+-(0,0.03) (12.2,0.018)+-(0,0.03) (15.7,-0.038)+-(0,0.04)};
\addplot[ptRb] coordinates {(67.7,-0.045)+-(0,0.05) (93.8,0.018)+-(0,0.05) (114,0.045)+-(0,0.1)};
\node[anchor=east,font=\lab] at (rel axis cs:0.974,0.746) {X= 0.600};
\end{axis}
\begin{axis}[at={(520pt,170.6pt)}, anchor=south west, xmode=log]
\addplot[cvGreen] coordinates {(1.25,0.168)(2.11,0.09)(3.66,0.045)(18.5,0.015)(117,0.008)};
\addplot[cvBlackR] coordinates {(1.91,-0.06)(2.4,0.027)(3.66,0.045)(18.5,0.015)(117,0.008)};
\addplot[ptRd] coordinates {(3.90,0.157)+-(0,0.09) (4.90,0.176)+-(0,0.1) (6.35,0.072)+-(0,0.03) (6.77,0.1)+-(0,0.03) (7.70,0.12)+-(0,0.03) (9.68,0.083)+-(0,0.03) (12.2,0.072)+-(0,0.02) (15.7,0.045)+-(0,0.02) (19.8,0.176)+-(0,0.13)};
\node[anchor=east,font=\lab] at (rel axis cs:0.974,0.746) {X= 0.700};
\end{axis}
\begin{axis}[at={(520pt,107.5pt)}, anchor=south west, xmode=log, xticklabels={,2,5,10,20,50,100}]
\addplot[cvGreen] coordinates {(1.25,0.149)(2.11,0.10)(3.66,0.062)(8.8,0.04)(25,0.022)(117,0.011)};
\addplot[cvBlackR] coordinates {(2.92,0.337)(4.0,0.18)(4.59,0.13)(6.35,0.074)(8.8,0.045)(25,0.022)(117,0.011)};
\addplot[ptRd] coordinates {(6.35,0.018)+-(0,0.07) (7.46,0.082)+-(0,0.04) (9.68,0.112)+-(0,0.05) (12.2,0.026)+-(0,0.04) (15.7,0.157)+-(0,0.05) (19.8,0.056)+-(0,0.1)};
\node[anchor=east,font=\lab] at (rel axis cs:0.974,0.746) {X= 0.775};
\end{axis}

% legend box
\begin{axis}[at={(519pt,43pt)}, anchor=south west, xmode=linear, width=155pt, height=38pt, xmin=0, xmax=1, ymin=0, ymax=1, xtick=\empty, ytick=\empty, minor xtick={}, minor ytick={}, legend style={at={(0.04,0.5)}, anchor=west, draw=none, fill=none, font=\fontsize{11}{12}\selectfont, row sep=0pt}, legend cell align=left, legend image code/.code={\draw[#1] (0pt,0pt) -- (22pt,0pt);}]
\addlegendimage{black, line width=0.6pt}\addlegendentry{NNLO (PQCD+TM+HT)}
\addlegendimage{lg, line width=1pt}\addlegendentry{NNLO (PQCD+TM)}
\end{axis}
\end{tikzpicture}
\end{document}
